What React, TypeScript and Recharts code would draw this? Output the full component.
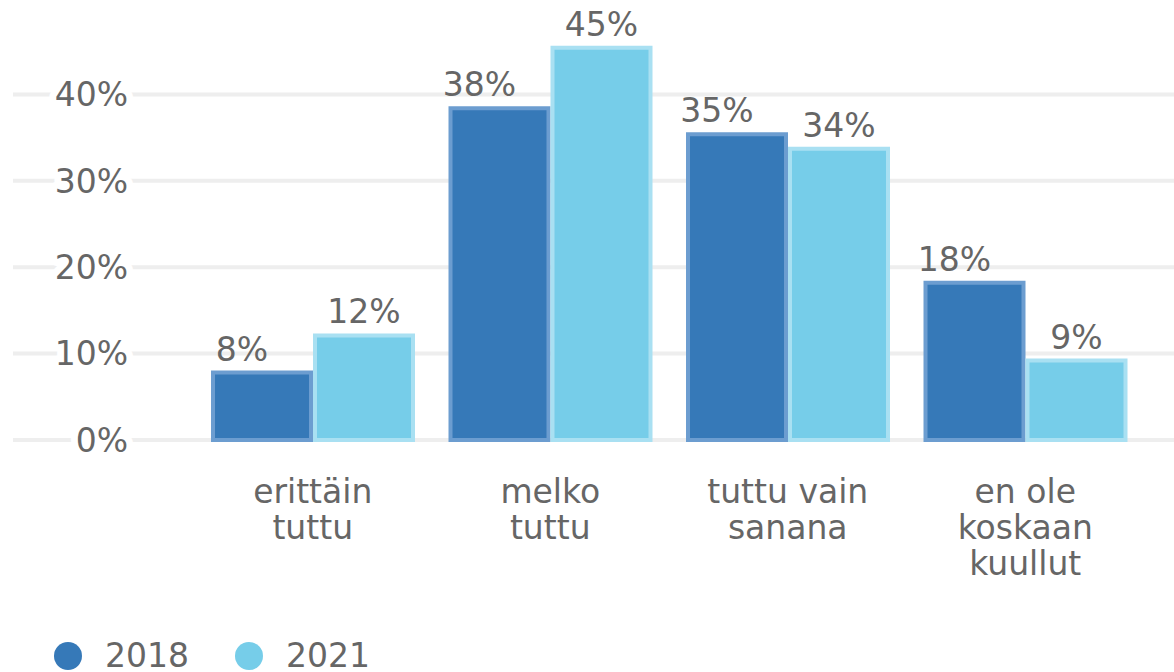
import React from 'react';
import { BarChart, Bar, XAxis, YAxis, CartesianGrid, LabelList, Legend } from 'recharts';

const categories = ['erittäin tuttu', 'melko tuttu', 'tuttu vain sanana', 'en ole koskaan kuullut'];
const categoryLines: Record<string, string[]> = {
  'erittäin tuttu': ['erittäin', 'tuttu'],
  'melko tuttu': ['melko', 'tuttu'],
  'tuttu vain sanana': ['tuttu vain', 'sanana'],
  'en ole koskaan kuullut': ['en ole', 'koskaan', 'kuullut'],
};
const series2018 = [7.8, 38.4, 35.4, 18.2];
const series2021 = [12.1, 45.4, 33.7, 9.2];
const yTicks = [0, 10, 20, 30, 40];
const seriesNames = ['2018', '2021'];

const COLOR_DARK = '#3679b8';
const COLOR_LIGHT = '#76cde9';
const TEXT = '#666666';
const FONT = 'DejaVu Sans, Verdana, sans-serif';
const FS = 33;

const data = categories.map((c, i) => ({ name: c, s2018: series2018[i], s2021: series2021[i] }));

const YTick = (props: any) => {
  const { y, payload } = props;
  return (
    <text
      x={128}
      y={y}
      dy="0.36em"
      textAnchor="end"
      fill={TEXT}
      fontSize={FS}
      fontFamily={FONT}
      stroke="#ffffff"
      strokeWidth={14}
      strokeLinejoin="round"
      paintOrder="stroke"
    >
      {`${payload.value}%`}
    </text>
  );
};

const XTick = (props: any) => {
  const { x, y, payload } = props;
  const lines = categoryLines[payload.value] || [payload.value];
  return (
    <text x={x} y={y} textAnchor="middle" fill={TEXT} fontSize={FS} fontFamily={FONT}>
      {lines.map((l, i) => (
        <tspan key={i} x={x} y={y + 63 + i * 36}>
          {l}
        </tspan>
      ))}
    </text>
  );
};

const makeLabel = (shift: number) => (props: any) => {
  const { x, y, width, value } = props;
  return (
    <text
      x={x + width / 2 + shift}
      y={y - 12}
      textAnchor="middle"
      fill={TEXT}
      fontSize={FS}
      fontFamily={FONT}
    >
      {`${Math.round(value)}%`}
    </text>
  );
};

const LegendContent = () => {
  const colors = [COLOR_DARK, COLOR_LIGHT];
  const starts = [54, 235];
  return (
    <div style={{ height: 82, position: 'relative' }}>
      <svg width={400} height={82} style={{ position: 'absolute', left: -13, top: 0 }}>
        {seriesNames.map((n, i) => (
          <g key={n}>
            <circle cx={starts[i] + 14} cy={66} r={14} fill={colors[i]} />
            <text x={starts[i] + 51} y={77} fill={TEXT} fontSize={FS} fontFamily={FONT}>
              {n}
            </text>
          </g>
        ))}
      </svg>
    </div>
  );
};

export default function App() {
  return (
    <div style={{ position: 'absolute', left: 0, top: 0, background: '#fff' }}>
      <BarChart
        width={1174}
        height={672}
        data={data}
        margin={{ top: 8, right: 0, left: 13, bottom: 0 }}
        barGap={4}
        barSize={98}
      >
        <CartesianGrid
          horizontal
          vertical={false}
          horizontalValues={yTicks}
          stroke="#eeeeee"
          strokeWidth={4}
        />
        <XAxis
          dataKey="name"
          axisLine={false}
          tickLine={false}
          tickSize={0}
          tickMargin={0}
          height={150}
          padding={{ left: 181, right: 30 }}
          tick={<XTick />}
          interval={0}
        />
        <YAxis
          mirror
          domain={[0, 50]}
          ticks={yTicks}
          axisLine={false}
          tickLine={false}
          tick={<YTick />}
          interval={0}
        />
        <Legend verticalAlign="bottom" align="left" content={<LegendContent />} />
        <Bar
          dataKey="s2018"
          name={seriesNames[0]}
          fill={COLOR_DARK}
          stroke="#6c9dd0"
          strokeWidth={4}
          isAnimationActive={false}
        >
          <LabelList dataKey="s2018" content={makeLabel(-20)} />
        </Bar>
        <Bar
          dataKey="s2021"
          name={seriesNames[1]}
          fill={COLOR_LIGHT}
          stroke="#a9e0f2"
          strokeWidth={4}
          isAnimationActive={false}
        >
          <LabelList dataKey="s2021" content={makeLabel(0)} />
        </Bar>
      </BarChart>
    </div>
  );
}
